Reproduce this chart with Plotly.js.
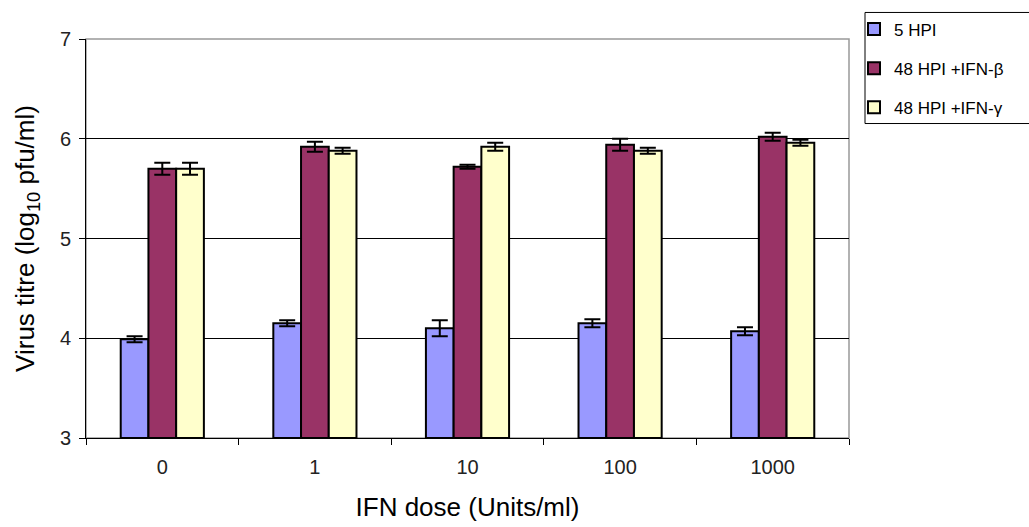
<!DOCTYPE html>
<html><head><meta charset="utf-8">
<script src="https://cdn.plot.ly/plotly-3.0.1.min.js"></script>
<style>body{margin:0;background:#fff}#c{width:1029px;height:527px}</style>
</head><body><div id="c"></div>
<script>
const doses = ["0","1","10","100","1000"];
const seriesNames = ["5 HPI","48 HPI +IFN-β","48 HPI +IFN-γ"];
const hpi5 = [3.99, 4.15, 4.10, 4.15, 4.07];
const hpi5Err = [0.03, 0.03, 0.08, 0.04, 0.04];
const beta48 = [5.70, 5.92, 5.72, 5.94, 6.02];
const beta48Err = [0.06, 0.05, 0.02, 0.06, 0.04];
const gamma48 = [5.70, 5.88, 5.92, 5.88, 5.96];
const gamma48Err = [0.06, 0.03, 0.04, 0.03, 0.03];
const colors = ["#9999ff","#993366","#ffffcc"];
const yBase = 3;

const vals = [hpi5, beta48, gamma48];
const errs = [hpi5Err, beta48Err, gamma48Err];
const traces = vals.map((v,i)=>({
  type:"bar", x:doses, base:yBase, y:v.map(d=>d-yBase), name:seriesNames[i], legendgroup:"g"+i,
  marker:{color:colors[i], line:{color:"#000", width:2}},
  error_y:{type:"data", array:errs[i], visible:true, color:"#000", thickness:2, width:8},
  hoverinfo:"skip"
}));
const L=86, R=849, T=32, B=438;
const pw=R-L, ph=B-T;
const layout = {
  width:1029, height:527,
  margin:{l:L, r:1029-R, t:T, b:527-B},
  paper_bgcolor:"#fff", plot_bgcolor:"#fff",
  barmode:"group", bargap:0.455, bargroupgap:0,
  font:{family:"Liberation Sans, Arial, sans-serif", color:"#000"},
  xaxis:{type:"category", tickson:"boundaries", ticks:"outside", ticklen:6, tickcolor:"#000",
    showline:true, linecolor:"#000", linewidth:1, showgrid:false, automargin:false,
    tickfont:{size:20, color:"#222"}, ticklabelstandoff:11,
    title:{text:"IFN dose (Units/ml)", font:{size:26}, standoff:20}},
  yaxis:{range:[3,7], dtick:1, ticks:"outside", ticklen:6, tickcolor:"#000",
    showline:true, linecolor:"#000", linewidth:1, automargin:false,
    showgrid:true, gridcolor:"#000", gridwidth:1, zeroline:false,
    tickfont:{size:20, color:"#222"}, ticklabelstandoff:4,
    title:{text:"Virus titre (log<sub>10</sub> pfu/ml)", font:{size:26}, standoff:17}},
  shapes:[
    {type:"rect", xref:"paper", yref:"paper", x0:0, x1:1, y0:0, y1:1, line:{color:"#999", width:1.5}, layer:"below"},
    {type:"rect", xref:"paper", yref:"paper", x0:(865-L)/pw, x1:(1032-L)/pw, y0:(B-118)/ph, y1:(B-5)/ph, line:{color:"#000", width:1}}
  ],
  legend:{x:(854-L)/pw, y:(B-4)/ph, xanchor:"left", yanchor:"top", borderwidth:0,
    font:{size:17}, tracegroupgap:14, bgcolor:"rgba(0,0,0,0)", traceorder:"grouped"},
  showlegend:true
};
Plotly.newPlot("c", traces, layout, {displayModeBar:false, staticPlot:true});
</script></body></html>
